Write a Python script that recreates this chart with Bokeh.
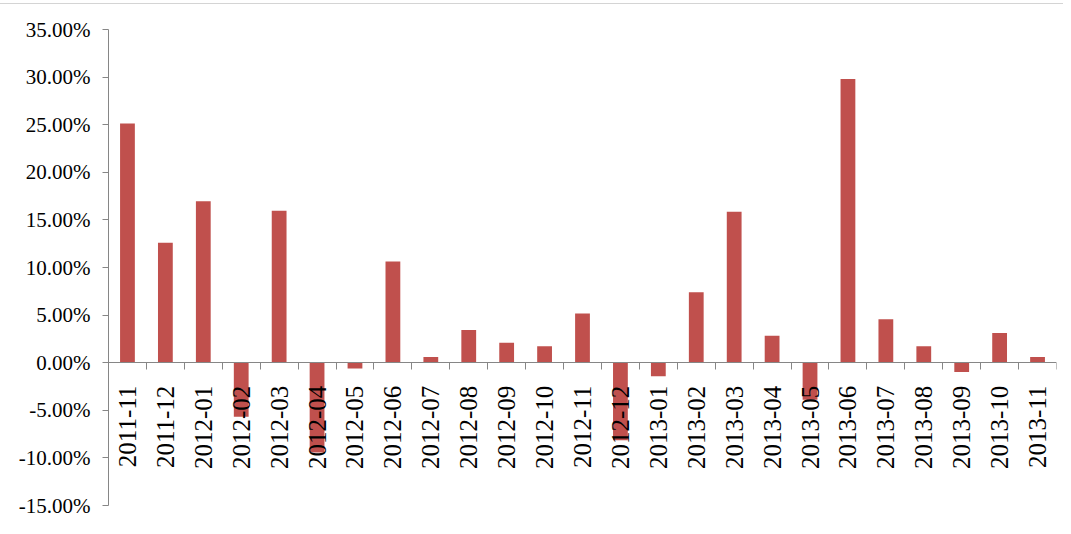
import math
import numpy as np
from bokeh.plotting import figure
from bokeh.models import Range1d, LinearAxis, FixedTicker, NumeralTickFormatter, ColumnDataSource
from bokeh.embed import file_html
from bokeh.resources import INLINE

months = ["2011-11", "2011-12", "2012-01", "2012-02", "2012-03", "2012-04", "2012-05",
          "2012-06", "2012-07", "2012-08", "2012-09", "2012-10", "2012-11", "2012-12",
          "2013-01", "2013-02", "2013-03", "2013-04", "2013-05", "2013-06", "2013-07",
          "2013-08", "2013-09", "2013-10", "2013-11"]
returns = [0.2513, 0.1260, 0.1695, -0.0568, 0.1597, -0.0943, -0.0060,
           0.1063, 0.0060, 0.0344, 0.0210, 0.0173, 0.0516, -0.0814,
           -0.0143, 0.0741, 0.1586, 0.0284, -0.0389, 0.2979, 0.0457,
           0.0173, -0.0098, 0.0313, 0.0060]
y_ticks = [-0.15, -0.10, -0.05, 0.0, 0.05, 0.10, 0.15, 0.20, 0.25, 0.30, 0.35]

n = len(months)
centers = list(np.arange(n) + 0.5)
boundaries = list(range(n + 1))
source = ColumnDataSource(dict(x=centers, top=returns, month=months))

GRAY = "#868686"
FONT = "Liberation Serif"

p = figure(width=1063, height=525, output_backend="svg", toolbar_location=None,
           x_range=Range1d(0, n), y_range=Range1d(-0.15, 0.35),
           x_axis_location=None, y_axis_location="left",
           min_border_left=108, min_border_right=7, min_border_top=25, min_border_bottom=24)
p.outline_line_color = None
p.xgrid.visible = False
p.ygrid.visible = False
p.styles = {"border-top": "1px solid #d4d4d4", "margin-top": "3px"}

p.vbar(x="x", top="top", bottom=0, width=0.39, source=source,
       fill_color="#C0504D", line_color=None)

ya = p.yaxis[0]
ya.ticker = FixedTicker(ticks=y_ticks)
ya.formatter = NumeralTickFormatter(format="0.00%")
ya.axis_line_color = GRAY
ya.major_tick_line_color = GRAY
ya.major_tick_out = 6
ya.major_tick_in = 0
ya.minor_tick_line_color = None
ya.major_label_standoff = 12
ya.major_label_text_font = FONT
ya.major_label_text_font_size = "21px"
ya.major_label_text_color = "#000000"

label_axis = LinearAxis(ticker=FixedTicker(ticks=centers, minor_ticks=boundaries),
                        fixed_location=0,
                        major_label_overrides={c: m for c, m in zip(centers, months)},
                        major_tick_line_color=None, major_tick_out=0, major_tick_in=0,
                        minor_tick_line_color=GRAY, minor_tick_out=7, minor_tick_in=0,
                        axis_line_color=GRAY, major_label_orientation=math.pi / 2,
                        major_label_standoff=16, major_label_text_font=FONT,
                        major_label_text_font_size="25px", major_label_text_color="#000000")
p.add_layout(label_axis, "below")

open("out.html", "w").write(file_html(p, INLINE))
